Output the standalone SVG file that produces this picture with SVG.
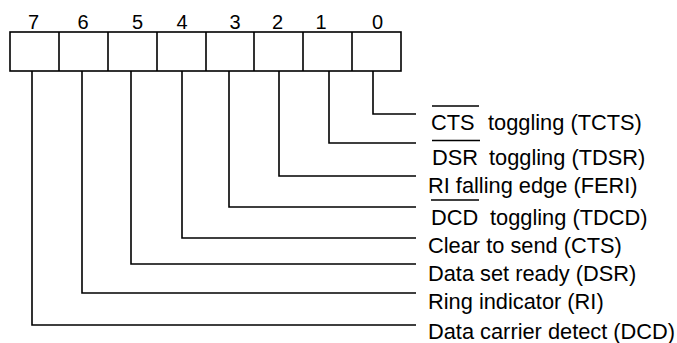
<svg xmlns="http://www.w3.org/2000/svg" width="677" height="343" viewBox="0 0 677 343">
<style>
.ln{fill:none;stroke:#000;stroke-width:1.6}
.t{font-family:"Liberation Sans",Arial,sans-serif;font-size:21.8px;fill:#000}
.d{font-family:"Liberation Sans",Arial,sans-serif;font-size:20px;fill:#000;text-anchor:middle}
</style>
<rect width="677" height="343" fill="#fff"/>
<g id="register">
<rect class="ln" x="10" y="32" width="391" height="39"/>
<path class="ln" d="M59 32V71M108 32V71M157 32V71M206 32V71M254 32V71M303 32V71M352 32V71"/>
<text class="d" x="33.5" y="29">7</text>
<text class="d" x="83" y="29">6</text>
<text class="d" x="137.5" y="29">5</text>
<text class="d" x="182" y="29">4</text>
<text class="d" x="235" y="29">3</text>
<text class="d" x="277.5" y="29">2</text>
<text class="d" x="321" y="29">1</text>
<text class="d" x="377.5" y="29">0</text>
</g>
<g id="connectors">
<path class="ln" d="M373 71V114H416"/>
<path class="ln" d="M329 71V143H416"/>
<path class="ln" d="M279 71V176H416"/>
<path class="ln" d="M229 71V207H416"/>
<path class="ln" d="M182 71V238H416"/>
<path class="ln" d="M131 71V264H416"/>
<path class="ln" d="M82 71V293H416"/>
<path class="ln" d="M32 71V325H416"/>
</g>
<g id="bit0">
<path class="ln" d="M432 106H479"/>
<text class="t" x="431" y="129.5">CTS</text>
<text class="t" x="488" y="129.5">toggling (TCTS)</text>
</g>
<g id="bit1">
<path class="ln" d="M432 140.5H480"/>
<text class="t" x="432" y="164.5">DSR</text>
<text class="t" x="489" y="164.5">toggling (TDSR)</text>
</g>
<g id="bit2">
<text class="t" x="428" y="193">RI falling edge (FERI)</text>
</g>
<g id="bit3">
<path class="ln" d="M431 200H479"/>
<text class="t" x="431" y="225">DCD</text>
<text class="t" x="490" y="225">toggling (TDCD)</text>
</g>
<g id="bit4"><text class="t" x="428" y="253">Clear to send (CTS)</text></g>
<g id="bit5"><text class="t" x="428" y="280.5">Data set ready (DSR)</text></g>
<g id="bit6"><text class="t" x="428" y="309">Ring indicator (RI)</text></g>
<g id="bit7"><text class="t" x="428" y="338.5">Data carrier detect (DCD)</text></g>
</svg>
